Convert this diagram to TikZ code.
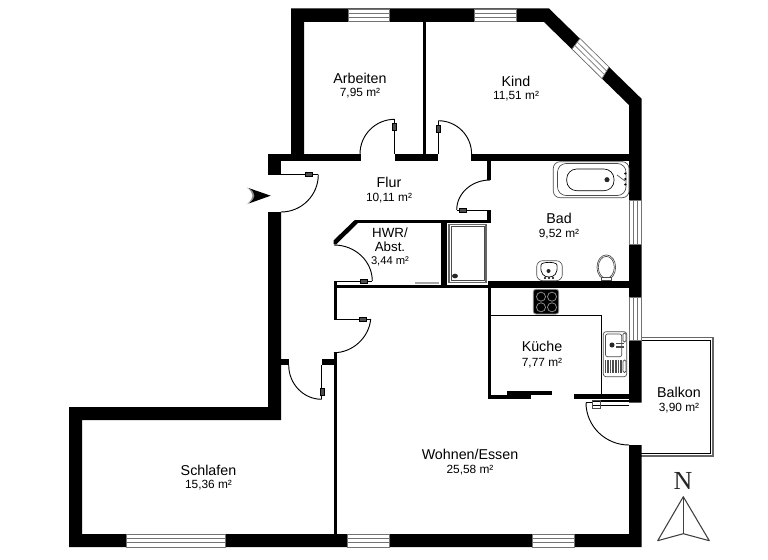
\documentclass[tikz,border=0pt]{standalone}
\usepackage{fontspec}
\setmainfont{Liberation Sans}
\newfontfamily\serifN{Liberation Serif}
\usetikzlibrary{calc}
% px is 0.75pt, y runs downwards as in the reference
\newcommand{\wallrect}[2]{\fill[wallfill] (#1) rectangle (#2);}
\newcommand{\qarc}[3]{\draw[thinline] ($(#1)+(#2)$) .. controls ($(#1)+(#2)+0.5523*(#3)$) and ($(#1)+(#3)+0.5523*(#2)$) .. ($(#1)+(#3)$);}
\newcommand{\hingeH}[2]{\draw[hingebox] (#1-3.5,#2-2) rectangle (#1+3.5,#2+2);}
\newcommand{\hingeV}[2]{\draw[hingebox] (#1-2,#2-3.5) rectangle (#1+2,#2+3.5);}
\newcommand{\hwin}[4]{%
  \draw[winframe] (#1,#3) rectangle (#2,#4);
  \draw[winline] (#1,{#3+(#4-#3)*0.34}) -- (#2,{#3+(#4-#3)*0.34});
  \draw[winline] (#1,{#3+(#4-#3)*0.66}) -- (#2,{#3+(#4-#3)*0.66});}
\newcommand{\vwin}[4]{%
  \draw[winframe] (#1,#3) rectangle (#2,#4);
  \draw[winline] ({#1+(#2-#1)*0.34},#3) -- ({#1+(#2-#1)*0.34},#4);
  \draw[winline] ({#1+(#2-#1)*0.66},#3) -- ({#1+(#2-#1)*0.66},#4);}
\begin{document}
\begin{tikzpicture}[x=0.75pt,y=-0.75pt,
  wallfill/.style={fill=black},
  thinline/.style={draw=black,line width=0.7pt},
  hingebox/.style={draw=black,line width=0.4pt,fill=black!70},
  winframe/.style={draw=black!55,line width=0.5pt,fill=white},
  winline/.style={draw=black!55,line width=0.5pt},
  fixture/.style={draw=black!70,line width=0.5pt,fill=white},
  fixdark/.style={draw=black,line width=0.5pt},
  roomname/.style={anchor=base,inner sep=0pt,font=\fontsize{10.7pt}{12pt}\selectfont,text=black},
  roomarea/.style={anchor=base,inner sep=0pt,font=\fontsize{8.9pt}{10pt}\selectfont,text=black},
  compassline/.style={draw=black!75,line width=0.8pt,line join=round}]
\useasboundingbox (0,0) rectangle (768,560);
\fill[white] (0,0) rectangle (768,560);

% balcony
\draw[draw=black!60,line width=0.8pt] (641,337.7) -- (713,337.7) -- (713,456) -- (641,456);
\draw[draw=black,line width=0.6pt] (641,340.5) -- (710,340.5) -- (710,453) -- (641,453);

% outer walls
\fill[wallfill] (291,8.5) -- (549,8.5) -- (641.5,98.7) -- (641.5,402.7) -- (629,402.7) -- (629,105) -- (544,22) -- (304,22) -- (304,154) -- (291,154) -- cycle;
\fill[wallfill] (641.5,445) -- (641.5,547) -- (69,547) -- (69,407) -- (268,407) -- (268,212) -- (281,212) -- (281,420) -- (82,420) -- (82,534) -- (629,534) -- (629,445) -- cycle;
\wallrect{268,154}{281,175}
% hall walls
\wallrect{268,154}{360.7,161}
\wallrect{395,154}{438,161}
\wallrect{471,154}{629,161}
\wallrect{422.7,22}{426,154}
\wallrect{486.7,161}{490.7,180}
\wallrect{486.7,210}{490.7,222.5}
\wallrect{355,219.8}{490.7,222.5}
\fill[wallfill] (355,219.8) -- (358.5,222.5) -- (336,244.5) -- (333.5,244) -- (333.5,240.5) -- cycle;
\wallrect{440.7,222}{447.3,285}
\wallrect{334,284.7}{490,287.5}
\wallrect{334,281.5}{337.3,319.5}
\wallrect{334,353}{337,534}
\wallrect{322.3,358.7}{337,365}
\wallrect{281,358.7}{289,365}
% kitchen walls
\wallrect{487.7,281}{629,288.3}
\wallrect{487.7,288}{491,399.3}
\wallrect{487.7,394.7}{530.7,399.3}
\wallrect{506.7,391.3}{552.3,394.7}
\wallrect{574.3,394.3}{629,399.3}
\draw[thinline] (491,315) -- (601,315) -- (601,394.5);

% windows
\hwin{348}{389}{9}{21.5}
\hwin{474}{516}{9}{21.5}
\hwin{126.3}{225.3}{534}{547}
\hwin{347}{389}{534}{547}
\hwin{532}{574}{534}{547}
\vwin{629}{641.5}{200}{244}
\vwin{629}{641.5}{297.7}{340.7}
\coordinate (dwa) at (572,49);
\coordinate (dwb) at (580,38.5);
\coordinate (dwc) at (609,67);
\coordinate (dwd) at (602,78.5);
\draw[winframe] (dwa) -- (dwb) -- (dwc) -- (dwd) -- cycle;
\draw[winline] ($(dwa)!0.34!(dwb)$) -- ($(dwd)!0.34!(dwc)$);
\draw[winline] ($(dwa)!0.66!(dwb)$) -- ($(dwd)!0.66!(dwc)$);

% doors
\draw[thinline] (281,174.7) -- (318.3,174.7);
\qarc{281,174.7}{37.3,0}{0,37.3}
\hingeH{309}{174.7}
\draw[thinline] (394.7,154) -- (394.7,119.3);
\qarc{394.7,154}{0,-34.7}{-34.7,0}
\hingeV{394.7}{127}
\draw[thinline] (438.3,154) -- (438.3,120.7);
\qarc{438.3,154}{0,-33.3}{33.3,0}
\hingeV{438.3}{128.7}
\draw[thinline] (490,210) -- (456.7,210);
\qarc{490,210}{-33.3,0}{0,-30}
\hingeH{463}{210}
\draw[thinline] (334,281) -- (372.3,281);
\qarc{334,281}{38.3,0}{0,-36}
\hingeH{364}{281}
\draw[thinline] (337,319) -- (370.7,319);
\qarc{337,319}{33.7,0}{-3,33.7}
\hingeH{363}{319}
\draw[thinline] (321.7,365) -- (321.7,399.3);
\qarc{321.7,365}{0,34.3}{-33,0}
\hingeV{322}{391.7}
% balcony door
\qarc{629,402.7}{-43,0}{0,42.3}
\draw[thinline] (586,402.7) -- (592,402.7);
\draw[draw=black,line width=0.5pt] (592,400) -- (628.5,400);
\draw[draw=black,line width=0.5pt] (592,401.8) -- (628.5,401.8);
\draw[draw=black,line width=0.5pt] (592,405) -- (628.5,405);
\draw[draw=black!70,line width=0.5pt] (592,400) rectangle (600,408);

% shower
\draw[draw=black!60,line width=1.2pt,fill=white] (449,224.5) rectangle (486,282.5);
\draw[draw=black!70,line width=0.4pt] (451,226.5) rectangle (484,280.5);
\fill[black!85] (455,276) circle [x radius=2.2pt,y radius=1.7pt];
\draw[draw=black!35,line width=0.8pt] (415,283) -- (439,283);

% bathtub
\draw[fixture,rounded corners=5pt] (553.3,161.7) rectangle (629,197.7);
\draw[fixture,rounded corners=6.5pt] (557.5,163.5) rectangle (626,195.5);
\draw[fixdark,rounded corners=7.5pt] (566.7,169) rectangle (614,190.7);
\fill[black!85] (607,179.7) circle [radius=1.9pt];
\draw[draw=black!70,line width=0.5pt] (617,175) -- (625,181);
\foreach \yy in {173.5,179,184.5} \fill[black] (625.3,\yy) circle [radius=0.9pt];

% washbasin
\draw[fixture,rounded corners=4.5pt] (536.7,260.7) rectangle (562.3,280.7);
\draw[fixdark] (541,265) .. controls (541,261.5) and (557,261.5) .. (557,265) .. controls (558,274) and (554,277) .. (549,277) .. controls (544,277) and (540,274) .. (541,265) -- cycle;
\fill[black!85] (548.5,271) circle [radius=1.5pt];
\foreach \xx in {545,549,553} \fill[black] (\xx,278) circle [radius=0.9pt];

% toilet
\draw[fixture] (606.3,267.3) circle [x radius=7pt,y radius=9.3pt];
\draw[fixture] (606.3,267.3) circle [x radius=6pt,y radius=8.2pt];
\draw[fixture] (601,277.5) rectangle (611.5,280.7);

% cooktop
\draw[draw=black!45,line width=0.6pt,fill=black,rounded corners=2pt] (533.3,289.3) rectangle (558.7,314);
\foreach \xx in {541,552} \foreach \yy in {296.7,307.3} \draw[draw=black!45,line width=0.6pt] (\xx,\yy) circle [radius=3.4pt];

% kitchen sink
\draw[fixture,rounded corners=2pt] (603.3,331.7) rectangle (626.7,376.7);
\draw[fixture,rounded corners=1.5pt] (605.5,334) rectangle (621.7,356.7);
\fill[black!85] (612,345) circle [radius=1.9pt];
\draw[draw=black!70,line width=0.5pt,fill=white,rounded corners=1pt] (623,333) rectangle (626,342);
\draw[draw=black!70,line width=0.5pt,fill=white,rounded corners=1pt] (623,360) rectangle (626,372.5);
\draw[draw=black!70,line width=0.8pt] (616,343.5) -- (624,343.5);
\draw[draw=black!70,line width=0.8pt] (616,347) -- (624,347);
\foreach \xx in {605.5,607.1,...,622} \draw[draw=black!70,line width=0.5pt] (\xx,360) -- (\xx,372.5);

% entry arrow
\fill[black!45] (246.7,187.3) .. controls (251,191) and (252.5,193.5) .. (252.5,195.7) .. controls (252.5,198) and (251,200.5) .. (246.7,204.3) -- (256,197) -- (256,194.5) -- cycle;
\fill[black] (248.5,188) -- (270.7,195.7) -- (248.5,203.6) .. controls (253,200) and (254.5,198) .. (254.5,195.7) .. controls (254.5,193.5) and (253,191) .. (248.5,188) -- cycle;

% north sign
\node[anchor=base,inner sep=0pt,font=\serifN\fontsize{19.5pt}{20pt}\selectfont,text=black!85] (north) at (683,489) {N};
\coordinate (napex) at (683.3,496.7);
\coordinate (nleft) at (657.7,540.7);
\coordinate (nright) at (709.3,540.7);
\coordinate (ncentre) at (683.3,533.7);
\draw[compassline] (napex) -- (nleft) -- (ncentre) -- (nright) -- cycle;
\draw[compassline] (napex) -- (ncentre);

% labels
\node[roomname] (arbeiten) at (360,83.3) {Arbeiten};
\node[roomarea] (arbeitena) at (360,96.7) {7,95 m²};
\node[roomname] (kind) at (516,86.7) {Kind};
\node[roomarea] (kinda) at (516,100) {11,51 m²};
\node[roomname] (flur) at (389,187.3) {Flur};
\node[roomarea] (flura) at (389,201) {10,11 m²};
\node[roomname,font=\fontsize{10pt}{12pt}\selectfont] (hwr) at (390,237.7) {HWR/};
\node[roomname,font=\fontsize{10pt}{12pt}\selectfont] (abst) at (390,251.7) {Abst.};
\node[roomarea,font=\fontsize{8.4pt}{10pt}\selectfont] (hwra) at (390,264) {3,44 m²};
\node[roomname] (bad) at (559,223.3) {Bad};
\node[roomarea] (bada) at (559,237.3) {9,52 m²};
\node[roomname] (kueche) at (542,351.7) {Küche};
\node[roomarea] (kuechea) at (542,366) {7,77 m²};
\node[roomname] (balkon) at (679,397.7) {Balkon};
\node[roomarea] (balkona) at (679,411.7) {3,90 m²};
\node[roomname] (schlafen) at (208.5,475) {Schlafen};
\node[roomarea] (schlafena) at (208.5,488.7) {15,36 m²};
\node[roomname] (wohnen) at (470,459.5) {Wohnen/Essen};
\node[roomarea] (wohnena) at (470,473.5) {25,58 m²};
\end{tikzpicture}
\end{document}
